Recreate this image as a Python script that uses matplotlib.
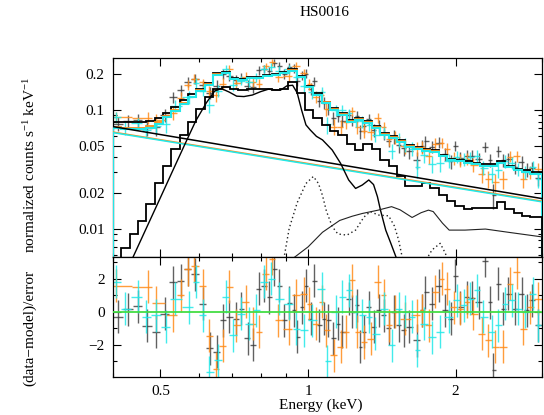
import numpy as np
import matplotlib
matplotlib.use('Agg')
import matplotlib.pyplot as plt
from matplotlib.ticker import FixedLocator, NullFormatter, FixedFormatter

plt.rcParams['font.family'] = ['Liberation Serif', 'DejaVu Serif']
plt.rcParams['mathtext.default'] = 'regular'

# ---------------- data ----------------
# model bin edges (keV)
MODEL_EDGES = [0.400, 0.416, 0.433, 0.450, 0.468, 0.487, 0.506, 0.526, 0.547, 0.569,
               0.592, 0.616, 0.640, 0.666, 0.693, 0.720, 0.749, 0.779, 0.810, 0.843,
               0.876, 0.911, 0.948, 0.986, 1.025, 1.066, 1.109, 1.153, 1.199, 1.247,
               1.297, 1.349, 1.403, 1.459, 1.518, 1.578, 1.641, 1.707, 1.775, 1.846,
               1.920, 1.997, 2.077, 2.160, 2.246, 2.336, 2.430, 2.527, 2.628, 2.733,
               2.842, 3.000]
MODEL_BLK = [0.080, 0.079, 0.079, 0.079, 0.081, 0.086, 0.095, 0.107, 0.121, 0.136,
             0.152, 0.170, 0.205, 0.210, 0.188, 0.184, 0.190, 0.192, 0.198, 0.203,
             0.210, 0.222, 0.195, 0.160, 0.138, 0.118, 0.104, 0.094, 0.082, 0.086,
             0.081, 0.073, 0.064, 0.060, 0.056, 0.051, 0.049, 0.047, 0.046, 0.042,
             0.039, 0.038, 0.037, 0.036, 0.035, 0.035, 0.037, 0.034, 0.032, 0.031, 0.030]
MODEL_ORG = [0.072, 0.071, 0.071, 0.071, 0.073, 0.079, 0.089, 0.101, 0.115, 0.130,
             0.147, 0.165, 0.200, 0.205, 0.184, 0.180, 0.186, 0.188, 0.194, 0.199,
             0.206, 0.216, 0.191, 0.157, 0.135, 0.116, 0.102, 0.092, 0.081, 0.084,
             0.079, 0.072, 0.063, 0.059, 0.055, 0.050, 0.048, 0.046, 0.045, 0.041,
             0.038, 0.037, 0.036, 0.035, 0.034, 0.034, 0.036, 0.033, 0.031, 0.030, 0.029]
MODEL_CYN = [0.070, 0.069, 0.069, 0.069, 0.071, 0.077, 0.087, 0.099, 0.113, 0.128,
             0.145, 0.163, 0.198, 0.204, 0.183, 0.179, 0.185, 0.187, 0.193, 0.198,
             0.205, 0.215, 0.190, 0.156, 0.134, 0.115, 0.101, 0.091, 0.080, 0.083,
             0.078, 0.071, 0.062, 0.058, 0.054, 0.049, 0.047, 0.045, 0.044, 0.041,
             0.038, 0.037, 0.036, 0.035, 0.034, 0.034, 0.036, 0.033, 0.031, 0.030, 0.029]
# folded thermal part (black data group)
MODEL_THERM = [0.0050, 0.0068, 0.0090, 0.0115, 0.0160, 0.024, 0.034, 0.047, 0.062, 0.080,
               0.103, 0.128, 0.152, 0.157, 0.150, 0.149, 0.150, 0.152, 0.150, 0.149,
               0.150, 0.172, 0.140, 0.100, 0.085, 0.075, 0.066, 0.061, 0.052, 0.046,
               0.052, 0.047, 0.038, 0.034, 0.028, 0.023, 0.023, 0.024, 0.0218, 0.0192,
               0.0172, 0.0155, 0.0145, 0.0148, 0.0149, 0.0150, 0.0168, 0.0145, 0.0135,
               0.0128, 0.0126]

# power-law components (end points)
PL_E = [0.4, 3.0]
PL_BLK = [0.0725, 0.0179]
PL_ORG = [0.0652, 0.0170]
PL_CYN = [0.0645, 0.0168]

# smooth model components
T1_E = [0.44, 0.47, 0.50, 0.53, 0.56, 0.59, 0.62, 0.645, 0.665, 0.69, 0.715, 0.74,
        0.77, 0.80, 0.83, 0.86, 0.88, 0.905, 0.93, 0.95, 0.97, 0.99, 1.01, 1.04,
        1.07, 1.12, 1.165, 1.21, 1.25, 1.29, 1.33, 1.36, 1.385, 1.405, 1.44, 1.475,
        1.51, 1.55]
T1_V = [0.0058, 0.0105, 0.0183, 0.031, 0.0509, 0.081, 0.115, 0.145, 0.152, 0.142,
        0.131, 0.130, 0.134, 0.143, 0.150, 0.148, 0.148, 0.160, 0.162, 0.140, 0.100,
        0.075, 0.068, 0.060, 0.056, 0.046, 0.0355, 0.0257, 0.0218, 0.0233, 0.0257,
        0.0235, 0.0186, 0.0143, 0.0097, 0.0075, 0.0058, 0.0045]
T2_E = [0.90, 0.937, 1.0, 1.07, 1.16, 1.23, 1.29, 1.39, 1.48, 1.54, 1.63, 1.70,
        1.76, 1.80, 1.88, 1.94, 2.09, 2.30, 2.56, 3.0]
T2_V = [0.0048, 0.0057, 0.0070, 0.0093, 0.0117, 0.0127, 0.0134, 0.0143, 0.0153,
        0.0144, 0.0124, 0.0136, 0.0143, 0.0139, 0.0111, 0.0097, 0.0097, 0.0099,
        0.0093, 0.0085]
T3_E = [0.875, 0.894, 0.915, 0.95, 0.99, 1.025, 1.05, 1.07, 1.09, 1.12, 1.15, 1.20,
        1.25, 1.30, 1.34, 1.39, 1.46, 1.50, 1.53, 1.555, 1.58, 1.72, 1.79, 1.86,
        1.905, 1.94]
T3_V = [0.0048, 0.0058, 0.0100, 0.0165, 0.0240, 0.0275, 0.0240, 0.0190, 0.0140,
        0.0104, 0.0090, 0.0088, 0.0097, 0.0125, 0.0139, 0.0130, 0.0128, 0.0105,
        0.0080, 0.0058, 0.0048, 0.0050, 0.0066, 0.0075, 0.0062, 0.0050]

# black data group
BLK_E = [0.410, 0.429, 0.450, 0.469, 0.490, 0.510, 0.530, 0.551, 0.568, 0.587,
         0.610, 0.631, 0.651, 0.670, 0.691, 0.713, 0.730, 0.753, 0.771, 0.793,
         0.814, 0.833, 0.853, 0.873, 0.894, 0.915, 0.937, 0.951, 0.972, 0.989,
         1.013, 1.029, 1.053, 1.078, 1.100, 1.124, 1.153, 1.174, 1.212, 1.231,
         1.260, 1.279, 1.300, 1.331, 1.362, 1.394, 1.427, 1.461, 1.496, 1.531,
         1.567, 1.604, 1.669, 1.708, 1.735, 1.790, 1.847, 1.905, 1.959, 1.996,
         2.043, 2.108, 2.158, 2.233, 2.297, 2.351, 2.388, 2.445, 2.503, 2.562,
         2.643, 2.727, 2.792, 2.858, 2.948]
BLK_RATE = [0.0769, 0.0805, 0.0826, 0.0712, 0.0717, 0.0908, 0.128, 0.147, 0.174, 0.184,
            0.163, 0.140, 0.161, 0.201, 0.195, 0.181, 0.187, 0.161, 0.156, 0.216,
            0.224, 0.214, 0.249, 0.236, 0.201, 0.229, 0.224, 0.177, 0.195, 0.203,
            0.151, 0.175, 0.120, 0.115, 0.102, 0.0857, 0.0895, 0.0816, 0.0903, 0.0820,
            0.0887, 0.0660, 0.0729, 0.0837, 0.0676, 0.0738, 0.0626, 0.0552, 0.0600, 0.0511,
            0.0480, 0.0450, 0.0382, 0.0496, 0.0543, 0.0490, 0.0532, 0.0425, 0.0370, 0.0502,
            0.0395, 0.0413, 0.0411, 0.0388, 0.0491, 0.0377, 0.0191, 0.0452, 0.0380, 0.0389,
            0.0328, 0.0366, 0.0314, 0.0327, 0.0269]
BLK_ERR = [0.0104, 0.0103, 0.0103, 0.0104, 0.0110, 0.0120, 0.0135, 0.0153, 0.0169, 0.0185,
           0.0140, 0.0158, 0.0185, 0.0190, 0.0180, 0.0170, 0.0166, 0.0170, 0.0171, 0.0173,
           0.0176, 0.0178, 0.0182, 0.0185, 0.0190, 0.0196, 0.0200, 0.0185, 0.0171, 0.0175,
           0.0174, 0.0160, 0.0145, 0.0132, 0.0119, 0.0114, 0.0107, 0.0103, 0.0091, 0.0090,
           0.0094, 0.0095, 0.0092, 0.0089, 0.0083, 0.0080, 0.0070, 0.0068, 0.0078, 0.0074,
           0.0073, 0.0066, 0.0064, 0.0064, 0.0061, 0.0060, 0.0057, 0.0055, 0.0051, 0.0051,
           0.0049, 0.0048, 0.0048, 0.0047, 0.0046, 0.0046, 0.0046, 0.0048, 0.0048, 0.0044,
           0.0042, 0.0042, 0.0040, 0.0039, 0.0039]
BLK_RES = [-0.3, 0.15, 0.35, -0.85, -1.2, -0.1, 1.8, 1.9, 2.6, 2.3,
           0.5, -2.2, -2.4, -0.5, -0.3, -0.4, 0.2, -1.6, -2.0, 1.4,
           1.6, 0.9, 2.6, 1.6, -0.5, 0.55, 0.1, -1.5, 0.3, 1.6,
           -0.4, 1.9, -0.8, -0.4, -0.5, -1.6, -0.7, -1.2, 0.8, 0.0,
           0.4, -2.1, -1.2, 0.3, -0.9, 0.1, -0.2, -1.0, 0.0, -0.8,
           -1.1, -0.9, -1.7, 0.1, 1.2, 0.5, 1.6, 0.1, -0.4, 2.2,
           0.3, 0.9, 0.85, 0.6, 3.1, 0.6, -3.5, 1.7, 0.2, 1.1,
           0.2, 1.1, 0.1, 0.7, -0.8]

# orange data group
ORG_E = [0.4065, 0.4714, 0.4902, 0.5300, 0.5510, 0.5684, 0.5865, 0.6099, 0.6292, 0.6491,
         0.6697, 0.6910, 0.7129, 0.7468, 0.7706, 0.7925, 0.8202, 0.8461, 0.8663, 0.9149,
         0.9439, 0.9815, 1.0047, 1.0366, 1.0693, 1.0862, 1.1294, 1.1653, 1.1929, 1.2305,
         1.2597, 1.2996, 1.3409, 1.3900, 1.4271, 1.4609, 1.5073, 1.5795, 1.6686, 1.7081,
         1.7621, 1.8182, 1.8750, 1.9195, 1.9801, 2.0430, 2.1078, 2.1748, 2.2612, 2.3331,
         2.4066, 2.5026, 2.5818, 2.6640, 2.7481, 2.8356, 2.9479]
ORG_RATE = [0.0868, 0.0862, 0.0825, 0.0945, 0.1267, 0.163, 0.184, 0.171, 0.1435, 0.1348,
            0.167, 0.2217, 0.1706, 0.192, 0.174, 0.1675, 0.2333, 0.2543, 0.1908, 0.1927,
            0.2356, 0.2055, 0.1658, 0.1291, 0.1334, 0.1018, 0.0725, 0.0721, 0.0798, 0.0981,
            0.0720, 0.0672, 0.0649, 0.0864, 0.0722, 0.0565, 0.0590, 0.0493, 0.0477, 0.0486,
            0.0412, 0.0521, 0.0530, 0.0473, 0.0395, 0.0380, 0.0388, 0.0345, 0.0290, 0.0264,
            0.0246, 0.0261, 0.0404, 0.0408, 0.0261, 0.0301, 0.0320]
ORG_ERR = [0.0094, 0.0094, 0.0100, 0.0126, 0.0146, 0.0159, 0.0176, 0.0135, 0.0149, 0.0176,
           0.0185, 0.0176, 0.0166, 0.0164, 0.0167, 0.0169, 0.0174, 0.0177, 0.0180, 0.0191,
           0.0194, 0.0185, 0.0173, 0.0154, 0.0138, 0.0128, 0.0112, 0.0103, 0.0101, 0.0089,
           0.0091, 0.0092, 0.0087, 0.0079, 0.0072, 0.0068, 0.0077, 0.0068, 0.0064, 0.0062,
           0.0060, 0.0059, 0.0055, 0.0052, 0.0049, 0.0048, 0.0047, 0.0046, 0.0046, 0.0044,
           0.0044, 0.0047, 0.0043, 0.0040, 0.0039, 0.0038, 0.0038]
ORG_RES = [1.58, 1.52, 0.55, -0.2, 1.01, 2.59, 2.79, 1.58, -1.45, -3.43,
           -2.06, 1.52, -0.81, 0.61, -0.71, -1.21, 2.32, 3.23, -0.51, -1.01,
           1.01, 1.11, 0.51, -0.71, 0.61, -1.11, -2.63, -2.12, -1.21, 1.92,
           -1.21, -1.82, -1.62, 1.82, 1.01, -0.81, 0.0, -0.4, -0.2, 0.1,
           -0.81, 1.21, 2.02, 1.41, 0.3, 0.2, 0.61, -0.1, -1.31, -1.72,
           -2.12, -2.12, 1.72, 2.42, -1.01, 0.3, 0.81]

# cyan data group
CYN_E = [0.4065, 0.4227, 0.4498, 0.4677, 0.4902, 0.5137, 0.5341, 0.5729, 0.5911, 0.6099,
         0.6292, 0.6542, 0.6803, 0.7018, 0.7297, 0.7586, 0.7826, 0.8138, 0.8395, 0.8730,
         0.9149, 0.9469, 0.9815, 1.0205, 1.0693, 1.0947, 1.1382, 1.1744, 1.2115, 1.2499,
         1.2895, 1.3305, 1.3724, 1.4271, 1.4839, 1.5311, 1.5795, 1.6297, 1.6686, 1.7215,
         1.7899, 1.8612, 1.9346, 2.0113, 2.0753, 2.1410, 2.2092, 2.2789, 2.3699, 2.4446,
         2.5223, 2.6021, 2.6849, 2.7697, 2.8797, 2.9479]
CYN_RATE = [0.0866, 0.0708, 0.0772, 0.0673, 0.0731, 0.0758, 0.1083, 0.1288, 0.1694, 0.1453,
            0.1096, 0.1457, 0.2207, 0.1624, 0.1774, 0.1722, 0.1877, 0.2223, 0.2305, 0.2157,
            0.2207, 0.1909, 0.1600, 0.1416, 0.1432, 0.0758, 0.1000, 0.1001, 0.0938, 0.0810,
            0.0802, 0.0754, 0.0616, 0.0644, 0.0451, 0.0564, 0.0510, 0.0471, 0.0328, 0.0418,
            0.0353, 0.0354, 0.0375, 0.0404, 0.0384, 0.0398, 0.0410, 0.0327, 0.0287, 0.0313,
            0.0373, 0.0360, 0.0318, 0.0300, 0.0332, 0.0260]
CYN_ERR = [0.0091, 0.0090, 0.0090, 0.0091, 0.0098, 0.0112, 0.0127, 0.0161, 0.0178, 0.0133,
           0.0147, 0.0178, 0.0184, 0.0167, 0.0161, 0.0166, 0.0167, 0.0172, 0.0176, 0.0181,
           0.0190, 0.0189, 0.0180, 0.0165, 0.0136, 0.0124, 0.0110, 0.0100, 0.0090, 0.0089,
           0.0090, 0.0086, 0.0079, 0.0069, 0.0064, 0.0072, 0.0066, 0.0064, 0.0061, 0.0060,
           0.0057, 0.0055, 0.0051, 0.0048, 0.0047, 0.0047, 0.0046, 0.0044, 0.0044, 0.0046,
           0.0046, 0.0043, 0.0040, 0.0039, 0.0038, 0.0038]
CYN_RES = [1.82, 0.2, 0.91, -0.3, -0.2, -0.91, 0.81, 0.3, 1.82, -0.2,
           -3.64, -2.93, 0.91, -1.41, -0.1, -0.71, 0.1, 1.82, 2.02, 0.81,
           0.51, -1.01, -1.11, -0.51, 1.41, -2.99, 0.0, 0.91, 1.31, 0.0,
           -0.2, -0.3, -1.31, 0.2, -2.02, 0.2, 0.0, -0.3, -2.32, -0.71,
           -1.52, -1.21, -0.3, 0.71, 0.4, 0.81, 1.31, -0.3, -1.21, -0.81,
           0.51, 0.71, 0.2, 0.0, 1.11, -0.81]

TITLE = 'HS0016'
XTICKS = [0.5, 1, 2]
XTICKLABELS = ['0.5', '1', '2']
YTICKS_TOP = [0.01, 0.02, 0.05, 0.1, 0.2]
YTICKLABELS_TOP = ['0.01', '0.02', '0.05', '0.1', '0.2']
YTICKS_BOT = [-2, 0, 2]
YTICKLABELS_BOT = ['\u22122', '0', '2']

# ---------------- styles ----------------
C_BLK = '#3a3a3a'
C_ORG = '#ff8c1a'
C_CYN = '#22e8e8'


def xbars(e):
    e = np.asarray(e, float)
    mids = np.sqrt(e[1:] * e[:-1])
    lo = np.empty_like(e)
    hi = np.empty_like(e)
    lo[1:] = e[1:] - mids
    hi[:-1] = mids - e[:-1]
    lo[0] = hi[0] if len(e) > 1 else 0.01
    hi[-1] = lo[-1]
    return np.vstack([lo, hi])


fig = plt.figure(figsize=(5.44, 4.15), dpi=100)
ax1 = fig.add_axes([0.2077, 0.3807, 0.7886, 0.4795])
ax2 = fig.add_axes([0.2077, 0.0916, 0.7886, 0.2891], sharex=ax1)

groups = [(BLK_E, BLK_RATE, BLK_ERR, BLK_RES, C_BLK, 0.8),
          (ORG_E, ORG_RATE, ORG_ERR, ORG_RES, C_ORG, 0.85),
          (CYN_E, CYN_RATE, CYN_ERR, CYN_RES, C_CYN, 0.85)]

for e, r, err, res, c, a in groups:
    xe = xbars(e)
    ax1.errorbar(e, r, xerr=xe, yerr=err, fmt='none', ecolor=c,
                 elinewidth=1.0, capsize=0, alpha=a, zorder=2)
    ax2.errorbar(e, res, xerr=xe, yerr=np.ones(len(res)), fmt='none', ecolor=c,
                 elinewidth=1.0, capsize=0, alpha=a, zorder=2)

# models
ax1.stairs(MODEL_BLK, MODEL_EDGES, color='black', lw=1.3, zorder=4)
ax1.stairs(MODEL_ORG, MODEL_EDGES, color=C_ORG, lw=1.3, zorder=4)
ax1.stairs(MODEL_CYN, MODEL_EDGES, color=C_CYN, lw=1.5, zorder=4)
ax1.stairs(MODEL_THERM, MODEL_EDGES, color='black', lw=1.3, zorder=4)
ax1.plot(PL_E, PL_BLK, color='black', lw=1.1, zorder=4)
ax1.plot(PL_E, PL_ORG, color=C_ORG, lw=1.1, zorder=4)
ax1.plot(PL_E, PL_CYN, color=C_CYN, lw=1.1, zorder=4)
ax1.plot(T1_E, T1_V, color='black', lw=1.0, zorder=4)
ax1.plot(T2_E, T2_V, color='#222222', lw=0.8, zorder=4)
ax1.plot(T3_E, T3_V, color='#222222', lw=1.0, ls=(0, (1, 2)), zorder=4)

ax2.axhline(0, color='#44dd44', lw=1.3, zorder=5)

# axes
for ax in (ax1, ax2):
    ax.set_xscale('log')
    ax.set_xlim(0.4, 3.0)
    ax.xaxis.set_major_locator(FixedLocator(XTICKS))
    ax.xaxis.set_minor_locator(FixedLocator([0.4, 0.6, 0.7, 0.8, 0.9, 3.0]))
    ax.xaxis.set_minor_formatter(NullFormatter())
    ax.tick_params(which='both', direction='in', top=True, right=True,
                   labelsize=11, width=0.8)
    ax.tick_params(which='major', length=6, pad=6)
    ax.tick_params(which='minor', length=3)
    for s in ax.spines.values():
        s.set_linewidth(0.9)

ax1.set_yscale('log')
ax1.set_ylim(0.00575, 0.275)
ax1.yaxis.set_major_locator(FixedLocator(YTICKS_TOP))
ax1.yaxis.set_major_formatter(FixedFormatter(YTICKLABELS_TOP))
ax1.yaxis.set_minor_locator(FixedLocator([0.006, 0.007, 0.008, 0.009, 0.03, 0.04,
                                          0.06, 0.07, 0.08, 0.09]))
ax1.yaxis.set_minor_formatter(NullFormatter())
ax1.tick_params(axis='x', which='both', labelbottom=False)

ax2.set_ylim(-3.94, 3.33)
ax2.yaxis.set_major_locator(FixedLocator(YTICKS_BOT))
ax2.yaxis.set_major_formatter(FixedFormatter(YTICKLABELS_BOT))
ax2.yaxis.set_minor_locator(FixedLocator([-3, -1, 1, 3]))
ax2.xaxis.set_major_formatter(FixedFormatter(XTICKLABELS))

fig.text(0.597, 0.971, TITLE, ha='center', va='center', fontsize=11)
fig.text(0.055, 0.6024, 'normalized counts s$^{-1}$ keV$^{-1}$', rotation=90,
         ha='center', va='center', fontsize=11)
fig.text(0.055, 0.2096, '(data\u2212model)/error', rotation=90,
         ha='center', va='center', fontsize=11)
fig.text(0.59, 0.024, 'Energy (keV)', ha='center', va='center', fontsize=11)

fig.savefig('out.png', dpi=100)
